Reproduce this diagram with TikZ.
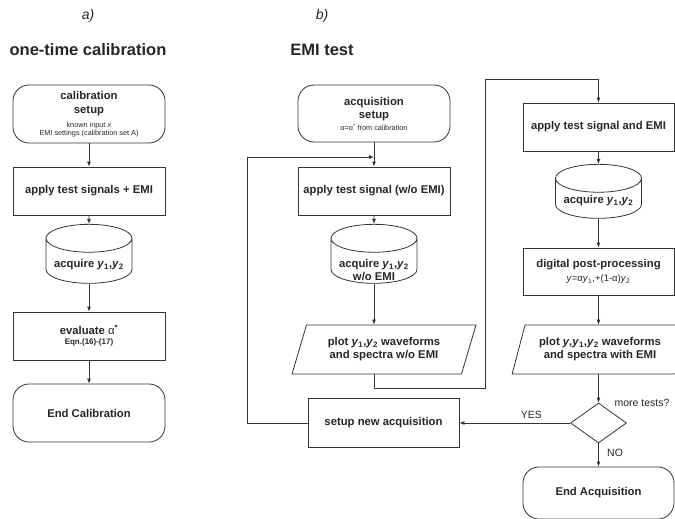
\documentclass[tikz,border=0pt]{standalone}
\usepackage{fontspec}
\setmainfont{Liberation Sans}
\usetikzlibrary{arrows.meta,shapes.geometric}

\newcommand{\ysub}[1]{\textit{y}\textsubscript{#1}}
\newcommand{\smalltxt}{\fontsize{7.3}{9}\selectfont\mdseries}
% text set lower in the cylinder body
\newcommand{\lowtxt}[2]{\raisebox{-#1}[0pt][0pt]{\begin{tabular}{@{}c@{}}#2\end{tabular}}}

\tikzset{
	flow/.style={-{Latex[length=5pt,width=4pt]}, line width=0.8pt, black!80},
	line/.style={line width=0.8pt, black!80},
	proc/.style={draw=black!80, line width=0.8pt, minimum width=152pt, minimum height=48pt, align=center,
		font=\fontsize{11.3}{13}\selectfont\bfseries, text=black!85},
	term/.style={proc, rounded corners=16pt, minimum height=58pt},
	store/.style={draw=black!80, line width=0.8pt, cylinder, shape border rotate=90, aspect=0.4,
		minimum width=86pt, minimum height=59pt, inner sep=0pt,
		font=\fontsize{11.3}{13}\selectfont\bfseries, text=black!85},
	io/.style={draw=black!80, line width=0.8pt, trapezium, trapezium left angle=66, trapezium right angle=114,
		trapezium stretches=true, minimum width=184pt, minimum height=49pt, inner sep=0pt, align=center,
		font=\fontsize{11.3}{13}\selectfont\bfseries, text=black!85},
	decision/.style={draw=black!80, line width=0.8pt, diamond, minimum width=56pt, minimum height=40pt, inner sep=0pt},
	lbl/.style={font=\fontsize{10.5}{12}\selectfont, text=black!85}
}

\begin{document}
\begin{tikzpicture}[x=1pt,y=-1pt]
	\useasboundingbox (0,0) rectangle (675,519);
	
	% titles
	\node[font=\fontsize{14}{16}\selectfont\itshape, text=black!85] (capA) at (88,16) {a)};
	\node[font=\fontsize{16.5}{18}\selectfont\bfseries, text=black!85] (titleA) at (88,50) {one-time calibration};
	\node[font=\fontsize{14}{16}\selectfont\itshape, text=black!85] (capB) at (322,16) {b)};
	\node[font=\fontsize{16.5}{18}\selectfont\bfseries, text=black!85] (titleB) at (322,50) {EMI test};
	
	% a) calibration
	\node[term] (calSetup) at (89,114) {calibration\\[1pt]setup\\[1pt]{\smalltxt known input \textit{x}}\\[-4.5pt]{\smalltxt EMI settings (calibration set A)}};
	\node[proc] (calApply) at (89,191) {apply test signals + EMI};
	\node[store] (calAcq) at (89,261) {\lowtxt{7pt}{acquire \ysub{1},\ysub{2}}};
	\node[proc] (calEval) at (89,336) {evaluate {\mdseries α}\textsuperscript{*}\\[-3pt]{\fontsize{8}{9}\selectfont Eqn.(16)-(17)}};
	\node[term] (calEnd) at (89,413) {End Calibration};
	
	\draw[flow] (calSetup) -- (calApply);
	\draw[flow] (calApply) -- (calAcq);
	\draw[flow] (calAcq) -- (calEval);
	\draw[flow] (calEval) -- (calEnd);
	
	% b) EMI test, left column
	\node[term, minimum height=57pt] (acqSetup) at (374,113.5) {acquisition\\setup\\[-1pt]{\smalltxt α=α\textsuperscript{*} from calibration}};
	\coordinate (junction) at (374,157);
	\node[proc] (acqApply) at (374,191) {apply test signal (w/o EMI)};
	\node[store] (acqAcq) at (374,261) {\lowtxt{13pt}{acquire \ysub{1},\ysub{2}\\w/o EMI}};
	\node[io] (plotA) at (384,349.5) {plot \ysub{1},\ysub{2} waveforms\\and spectra w/o EMI};
	\node[proc, minimum width=151pt, minimum height=49pt] (newAcq) at (383.5,423) {setup new acquisition};
	\coordinate (loopLeft) at (247,157);
	\coordinate (loopTop) at (485,79);
	\coordinate (bendA) at (485,388);
	
	% b) EMI test, right column
	\node[proc, minimum width=151pt] (emiApply) at (598.5,127) {apply test signal and EMI};
	\node[store, minimum height=54pt] (emiAcq) at (598.5,198.5) {\lowtxt{5pt}{acquire \ysub{1},\ysub{2}}};
	\node[proc, minimum width=151pt, minimum height=47pt] (post) at (598.5,271.5) {digital post-processing\\[1pt]{\fontsize{9.5}{11}\selectfont\mdseries\textit{y}=α\ysub{1},+(1-α)\ysub{2}}};
	\node[io, minimum width=176pt] (plotB) at (600,349.5) {plot \textit{y},\ysub{1},\ysub{2} waveforms\\and spectra with EMI};
	\node[decision] (decide) at (598.5,423) {};
	\node[lbl] (moreTests) at (642,403) {more tests?};
	\node[term, minimum width=151pt, minimum height=52pt] (endAcq) at (598.5,493) {End Acquisition};
	
	\draw[line] (acqSetup) -- (junction);
	\draw[flow] (junction) -- (acqApply);
	\draw[flow] (acqApply) -- (acqAcq);
	\draw[flow] (acqAcq) -- (acqAcq |- plotA.north);
	\draw[flow] (acqAcq |- plotA.south) |- (bendA) |- (emiApply.north |- loopTop) -- (emiApply.north);
	\draw[flow] (emiApply) -- (emiAcq);
	\draw[flow] (emiAcq) -- (post);
	\draw[flow] (post) -- (post |- plotB.north);
	\draw[flow] (post |- plotB.south) -- (decide.north);
	\draw[flow] (decide.west) -- (newAcq.east) node[lbl, pos=0.35, above=1pt] (yes) {YES};
	\draw[flow] (decide.south) -- (endAcq.north) node[lbl, pos=0.4, right=5pt] (no) {NO};
	\draw[flow] (newAcq.west) -| (loopLeft) -- (junction);
\end{tikzpicture}
\end{document}
